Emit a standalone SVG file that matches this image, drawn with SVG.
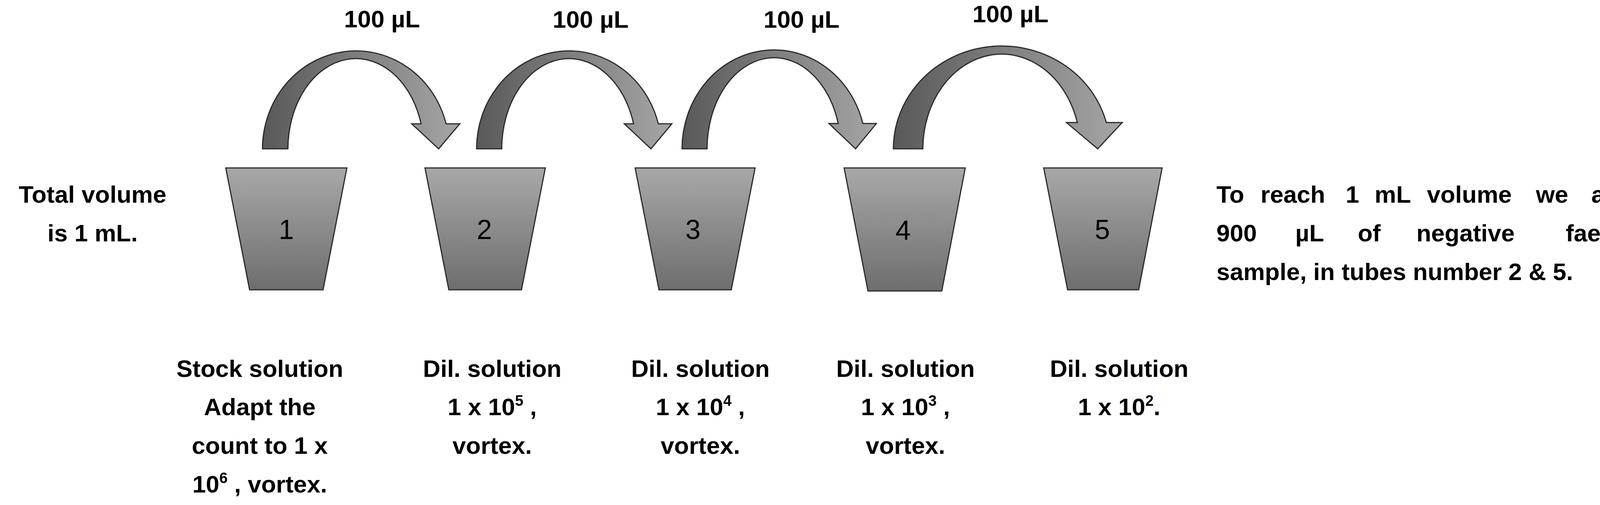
<svg xmlns="http://www.w3.org/2000/svg" width="4229" height="1293" viewBox="0 0 4229 1293">
<style>
text{font-family:"Liberation Sans",Arial,sans-serif;fill:#000}
.b{font-weight:bold;font-size:62px}
.n{font-size:70px}
.tube{fill:url(#tg);stroke:#2a2a2a;stroke-width:3}
.arr{fill:url(#ag);stroke:#2a2a2a;stroke-width:3;vector-effect:non-scaling-stroke}
.sup{font-size:38px}
</style>
<defs>
<linearGradient id="tg" x1="0" y1="0" x2="0" y2="1"><stop offset="0" stop-color="#a8a8a8"/><stop offset="1" stop-color="#6e6e6e"/></linearGradient>
<linearGradient id="ag" x1="0" y1="0" x2="1" y2="0"><stop offset="0" stop-color="#595959"/><stop offset="1" stop-color="#a6a6a6"/></linearGradient>
<path id="arrow" class="arr" d="M0,0 A239,251 0 0 1 470,-64 L505,-64 L451,0 L382,-64 L406,-64 A174,232 0 0 0 65,0 Z"/>
</defs>
<g id="connectors">
<use href="#arrow" transform="translate(672,381)"/>
<use href="#arrow" transform="translate(1220,381) scale(0.99,1)"/>
<use href="#arrow" transform="translate(1746,381) scale(0.985,1.01)"/>
<use href="#arrow" transform="translate(2287,381) scale(1.16,1.05)"/>
</g>
<g id="labels100" class="b" text-anchor="middle">
<text x="978" y="70">100 µL</text>
<text x="1512" y="71">100 µL</text>
<text x="2052" y="71">100 µL</text>
<text x="2587" y="57">100 µL</text>
</g>
<g id="tube1"><polygon class="tube" points="578,430 888,430 827,742 639,742"/><text class="n" x="733" y="612" text-anchor="middle">1</text></g>
<g id="tube2"><polygon class="tube" points="1088,430 1396,430 1335,742 1149,742"/><text class="n" x="1240" y="612" text-anchor="middle">2</text></g>
<g id="tube3"><polygon class="tube" points="1626,430 1933,430 1872,742 1687,742"/><text class="n" x="1774" y="612" text-anchor="middle">3</text></g>
<g id="tube4"><polygon class="tube" points="2161,430 2471,430 2411,745 2222,745"/><text class="n" x="2312" y="614" text-anchor="middle">4</text></g>
<g id="tube5"><polygon class="tube" points="2672,430 2975,430 2915,742 2733,742"/><text class="n" x="2822" y="612" text-anchor="middle">5</text></g>
<g id="left-note" class="b" text-anchor="middle">
<text x="237" y="519">Total volume</text>
<text x="237" y="618">is 1 mL.</text>
</g>
<g id="right-note" class="b">
<text y="519"><tspan x="3114">To</tspan><tspan x="3227">reach</tspan><tspan x="3445">1</tspan><tspan x="3519">mL</tspan><tspan x="3653">volume</tspan><tspan x="3932">we</tspan></text>
<text x="4184" y="519" text-anchor="end">add</text>
<text y="618"><tspan x="3114">900</tspan><tspan x="3316">µL</tspan><tspan x="3476">of</tspan><tspan x="3626">negative</tspan></text>
<text x="4184" y="618" text-anchor="end">faecal</text>
<text x="3114" y="717">sample, in tubes number 2 &amp; 5.</text>
</g>
<g id="desc1" class="b" text-anchor="middle">
<text x="665" y="965">Stock solution</text>
<text x="665" y="1063">Adapt the</text>
<text x="665" y="1162">count to 1 x</text>
<text x="665" y="1261">10<tspan class="sup" dy="-24">6</tspan><tspan dy="24"> , vortex.</tspan></text>
</g>
<g id="desc2" class="b" text-anchor="middle">
<text x="1260" y="965">Dil. solution</text>
<text x="1260" y="1063">1 x 10<tspan class="sup" dy="-24">5</tspan><tspan dy="24"> ,</tspan></text>
<text x="1260" y="1162">vortex.</text>
</g>
<g id="desc3" class="b" text-anchor="middle">
<text x="1793" y="965">Dil. solution</text>
<text x="1793" y="1063">1 x 10<tspan class="sup" dy="-24">4</tspan><tspan dy="24"> ,</tspan></text>
<text x="1793" y="1162">vortex.</text>
</g>
<g id="desc4" class="b" text-anchor="middle">
<text x="2318" y="965">Dil. solution</text>
<text x="2318" y="1063">1 x 10<tspan class="sup" dy="-24">3</tspan><tspan dy="24"> ,</tspan></text>
<text x="2318" y="1162">vortex.</text>
</g>
<g id="desc5" class="b" text-anchor="middle">
<text x="2865" y="965">Dil. solution</text>
<text x="2865" y="1063">1 x 10<tspan class="sup" dy="-24">2</tspan><tspan dy="24">.</tspan></text>
</g>
</svg>
